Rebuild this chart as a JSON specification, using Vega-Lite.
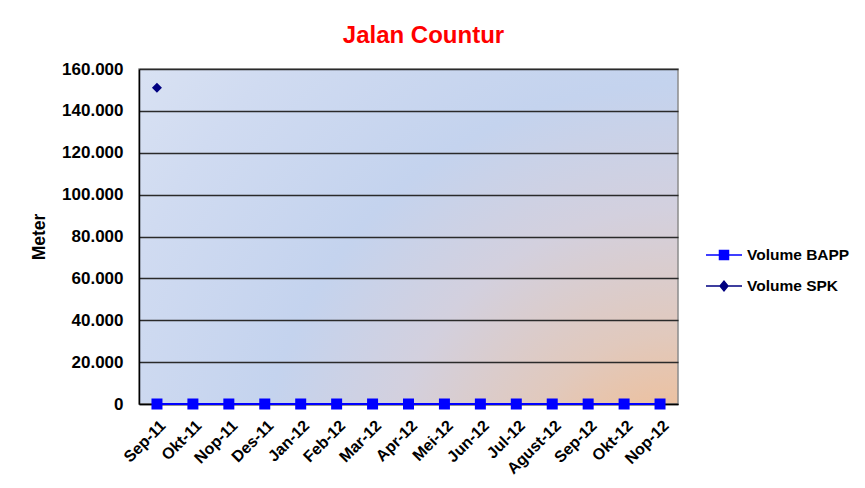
{
  "$schema": "https://vega.github.io/schema/vega-lite/v6.json",
  "width": 539,
  "height": 335,
  "autosize": {"type": "none"},
  "padding": {"left": 139, "top": 69, "right": 187, "bottom": 84},
  "background": "white",
  "title": {"text": "Jalan Countur", "color": "#ff0000", "fontSize": 24, "font": "Liberation Sans", "fontWeight": "bold", "offset": -7, "baseline": "alphabetic", "dx": 15},
  "config": {
    "font": "Liberation Sans",
    "locale": {"number": {"decimal": ",", "thousands": ".", "grouping": [3], "currency": ["", ""]}},
    "view": {
      "stroke": "#8c8c8c",
      "strokeWidth": 1.5,
      "fill": {"gradient": "radial", "x1": 1, "y1": 1, "r1": 0, "x2": 1, "y2": 1, "r2": 1.45,
        "stops": [
          {"offset": 0, "color": "#f7bb86"},
          {"offset": 0.1, "color": "#efbf99"},
          {"offset": 0.22, "color": "#e1c9bd"},
          {"offset": 0.38, "color": "#d3d0de"},
          {"offset": 0.54, "color": "#c4d3ee"},
          {"offset": 0.76, "color": "#d0dbf1"},
          {"offset": 1, "color": "#e0e7f4"}
        ]}
    }
  },
  "data": {"values": [
    {"month": "Sep-11", "series": "Volume BAPP", "value": 0},
    {"month": "Okt-11", "series": "Volume BAPP", "value": 0},
    {"month": "Nop-11", "series": "Volume BAPP", "value": 0},
    {"month": "Des-11", "series": "Volume BAPP", "value": 0},
    {"month": "Jan-12", "series": "Volume BAPP", "value": 0},
    {"month": "Feb-12", "series": "Volume BAPP", "value": 0},
    {"month": "Mar-12", "series": "Volume BAPP", "value": 0},
    {"month": "Apr-12", "series": "Volume BAPP", "value": 0},
    {"month": "Mei-12", "series": "Volume BAPP", "value": 0},
    {"month": "Jun-12", "series": "Volume BAPP", "value": 0},
    {"month": "Jul-12", "series": "Volume BAPP", "value": 0},
    {"month": "Agust-12", "series": "Volume BAPP", "value": 0},
    {"month": "Sep-12", "series": "Volume BAPP", "value": 0},
    {"month": "Okt-12", "series": "Volume BAPP", "value": 0},
    {"month": "Nop-12", "series": "Volume BAPP", "value": 0},
    {"month": "Sep-11", "series": "Volume SPK", "value": 151000}
  ]},
  "encoding": {
    "x": {"field": "month", "type": "ordinal",
      "sort": ["Sep-11","Okt-11","Nop-11","Des-11","Jan-12","Feb-12","Mar-12","Apr-12","Mei-12","Jun-12","Jul-12","Agust-12","Sep-12","Okt-12","Nop-12"],
      "scale": {"padding": 0.5},
      "axis": {"title": null, "labelAngle": -45, "labelFontSize": 16, "labelFontWeight": "bold", "labelColor": "black", "labelPadding": 13, "ticks": false, "domainColor": "black", "domainWidth": 1.5, "grid": false}},
    "y": {"field": "value", "type": "quantitative",
      "scale": {"domain": [0, 160000], "nice": false},
      "axis": {"title": "Meter", "titleFontSize": 17.5, "titleFontWeight": "bold", "titleColor": "black", "titlePadding": 13,
        "labelFontSize": 17, "labelFontWeight": "bold", "labelColor": "black", "labelPadding": 16,
        "ticks": false, "domainColor": "black", "domainWidth": 1.5,
        "gridColor": "#2a2a2a", "gridWidth": 1.5,
        "values": [0, 20000, 40000, 60000, 80000, 100000, 120000, 140000, 160000], "format": ",d"}},
    "color": {"field": "series", "type": "nominal",
      "scale": {"domain": ["Volume BAPP", "Volume SPK"], "range": ["#0000ff", "#000080"]},
      "legend": {"title": null, "orient": "none", "legendX": 566, "legendY": 167,
        "symbolSize": 1296, "symbolStrokeWidth": 1.5,
        "labelFontSize": 15.5, "labelFontWeight": "bold", "labelFont": "Liberation Sans", "labelColor": "black",
        "rowPadding": 3, "labelOffset": 4,
        "encode": {"symbols": {"update": {
          "shape": {"signal": "datum.value === 'Volume BAPP' ? 'M-1,0H1M-0.25,-0.25H0.25V0.25H-0.25Z' : 'M-1,0H1M0,-0.27L0.22,0L0,0.27L-0.22,0Z'"},
          "fill": {"scale": "color", "field": "value"},
          "stroke": {"scale": "color", "field": "value"},
          "opacity": {"value": 1}
        }}}}}
  },
  "layer": [
    {"mark": {"type": "line", "strokeWidth": 2}},
    {"transform": [{"filter": "datum.series === 'Volume BAPP'"}],
      "mark": {"type": "point", "shape": "square", "filled": true, "opacity": 1, "size": 121}},
    {"transform": [{"filter": "datum.series === 'Volume SPK'"}],
      "mark": {"type": "point", "shape": "diamond", "filled": true, "opacity": 1, "size": 100}}
  ]
}
